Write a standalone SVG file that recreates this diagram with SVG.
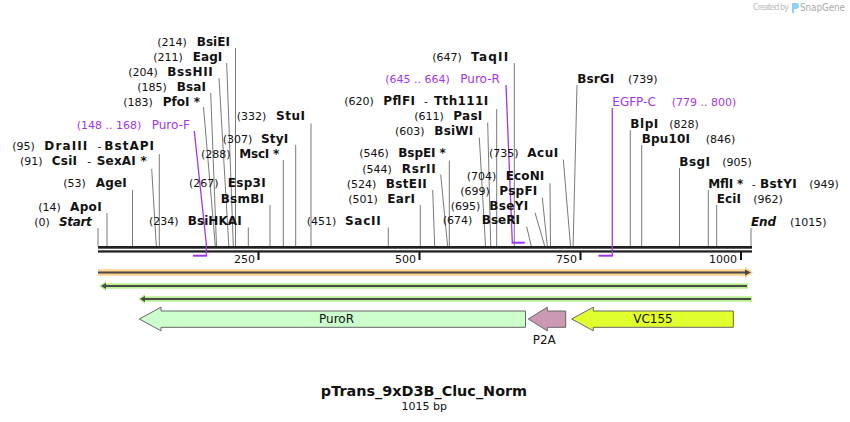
<svg xmlns="http://www.w3.org/2000/svg" width="850" height="422" viewBox="0 0 850 422">
<style>
text{font-family:"DejaVu Sans","Verdana",sans-serif;fill:#111}
.n{font-size:11px}
.e{font-size:12px;font-weight:bold}
.i{font-style:italic}
.p{font-size:12px;fill:#a336ec}
.pn{font-size:11px;fill:#a336ec}
.d{font-size:11px}
.l{stroke:#7a7a7a;stroke-width:1;fill:none}
.pl{stroke:#a336ec;stroke-width:1.3;fill:none}
.pb{stroke:#a336ec;stroke-width:2;fill:none}
.tk{stroke:#111;stroke-width:2}
.ax{font-size:11px}
.f{stroke:#666;stroke-width:1}
.lab{font-size:12px}
</style>
<rect width="850" height="422" fill="#fff"/>
<g id="watermark">
<text x="753" y="10" style="font-size:8px;fill:#bbb" textLength="36">Created by</text>
<path d="M792 3 h4 a3 3 0 0 1 0 6 h-2 v4 h-2 z" fill="#8fd0f0"/>
<text x="800" y="11" style="font-size:10px;fill:#aaa" textLength="45" lengthAdjust="spacingAndGlyphs">SnapGene</text>
</g>
<g id="backbone">
<rect x="98" y="246" width="654" height="2.7" fill="#222"/>
<rect x="98" y="250.3" width="654" height="2.3" fill="#222"/>
<line class="tk" x1="258.5" y1="252" x2="258.5" y2="260"/>
<line class="tk" x1="419.5" y1="252" x2="419.5" y2="260"/>
<line class="tk" x1="580.5" y1="252" x2="580.5" y2="260"/>
<line class="tk" x1="741" y1="252" x2="741" y2="260"/>
<text class="ax" x="255" y="263" text-anchor="end">250</text>
<text class="ax" x="416" y="263" text-anchor="end">500</text>
<text class="ax" x="577" y="263" text-anchor="end">750</text>
<text class="ax" x="737" y="263" text-anchor="end">1000</text>
</g>
<g id="connectors">
<line class="l" x1="98" y1="228" x2="98" y2="246"/>
<line class="l" x1="107" y1="213" x2="107" y2="246"/>
<line class="l" x1="132.5" y1="190" x2="132.5" y2="246"/>
<line class="l" x1="151.7" y1="169" x2="156.3" y2="246"/>
<line class="l" x1="159.3" y1="154" x2="159.3" y2="246"/>
<line class="l" x1="203.5" y1="107" x2="215.3" y2="246"/>
<line class="l" x1="210.7" y1="93" x2="216.5" y2="246"/>
<line class="l" x1="219" y1="78" x2="228.8" y2="246"/>
<line class="l" x1="226.7" y1="63" x2="233.3" y2="246"/>
<line class="l" x1="235.5" y1="48" x2="235.5" y2="246"/>
<line class="l" x1="248.3" y1="227.5" x2="248.3" y2="246"/>
<line class="l" x1="270" y1="205" x2="270" y2="246"/>
<line class="l" x1="283.3" y1="160" x2="283.3" y2="246"/>
<line class="l" x1="295.7" y1="145" x2="295.7" y2="246"/>
<line class="l" x1="311" y1="123.5" x2="311" y2="246"/>
<line class="l" x1="388.3" y1="227.5" x2="388.3" y2="246"/>
<line class="l" x1="420.3" y1="205" x2="420.3" y2="246"/>
<line class="l" x1="432.7" y1="190" x2="434.7" y2="246"/>
<line class="l" x1="440.7" y1="174.5" x2="447.6" y2="246"/>
<line class="l" x1="449.3" y1="160.5" x2="449.3" y2="246"/>
<line class="l" x1="479.3" y1="137.5" x2="485.5" y2="246"/>
<line class="l" x1="487.7" y1="122.5" x2="490.7" y2="246"/>
<line class="l" x1="496.7" y1="109" x2="496.7" y2="246"/>
<line class="l" x1="514.3" y1="63" x2="514.3" y2="246"/>
<line class="l" x1="526.7" y1="226.7" x2="531.2" y2="246"/>
<line class="l" x1="535" y1="212.7" x2="544.7" y2="246"/>
<line class="l" x1="542.3" y1="197.7" x2="547.3" y2="246"/>
<line class="l" x1="550" y1="183.3" x2="550.5" y2="246"/>
<line class="l" x1="563.3" y1="159.5" x2="570.5" y2="246"/>
<line class="l" x1="577" y1="85" x2="573.1" y2="246"/>
<line class="l" x1="630.3" y1="130" x2="630.3" y2="246"/>
<line class="l" x1="641.7" y1="145" x2="641.7" y2="246"/>
<line class="l" x1="679.5" y1="168" x2="679.5" y2="246"/>
<line class="l" x1="708.3" y1="190" x2="708.3" y2="246"/>
<line class="l" x1="716.7" y1="205" x2="716.7" y2="246"/>
<line class="l" x1="751" y1="228" x2="751" y2="246"/>
<polyline class="pl" points="194.3,131 206.3,244 206.3,256"/>
<line class="pb" x1="193" y1="255.7" x2="207" y2="255.7"/>
<polyline class="pl" points="506,85 512.3,242"/>
<line class="pb" x1="511.5" y1="242.7" x2="524.8" y2="242.7"/>
<line class="pl" x1="612.3" y1="108" x2="612.3" y2="256"/>
<line class="pb" x1="598.5" y1="255.7" x2="613" y2="255.7"/>
</g>
<g id="labels-left">
<text class="n" x="34.3" y="226">(0)</text><text class="e i" x="59" y="226" textLength="32.7">Start</text>
<text class="n" x="38.3" y="211">(14)</text><text class="e" x="70" y="211" textLength="31.7">ApoI</text>
<text class="n" x="63.3" y="187">(53)</text><text class="e" x="95.7" y="187" textLength="31">AgeI</text>
<text class="n" x="20" y="165">(91)</text><text class="e" x="51.7" y="165" textLength="25.3">CsiI</text><text class="d" x="87.3" y="165">-</text><text class="e" x="96.7" y="165" textLength="50">SexAI *</text>
<text class="n" x="12.3" y="150">(95)</text><text class="e" x="44.3" y="150" textLength="43">DraIII</text><text class="d" x="97.5" y="150">-</text><text class="e" x="104.3" y="150" textLength="49.7">BstAPI</text>
<text class="pn" x="76.7" y="129">(148 .. 168)</text><text class="p" x="151.7" y="129">Puro-F</text>
<text class="n" x="123.3" y="106">(183)</text><text class="e" x="162.7" y="106" textLength="37.3">PfoI *</text>
<text class="n" x="137.3" y="91">(185)</text><text class="e" x="176.7" y="91" textLength="29.3">BsaI</text>
<text class="n" x="128.3" y="76">(204)</text><text class="e" x="167.3" y="76" textLength="45.4">BssHII</text>
<text class="n" x="153.3" y="61">(211)</text><text class="e" x="192.7" y="61" textLength="29.6">EagI</text>
<text class="n" x="157.3" y="46">(214)</text><text class="e" x="196.7" y="46" textLength="33.3">BsiEI</text>
<text class="n" x="149" y="225">(234)</text><text class="e" x="187.7" y="225" textLength="54">BsiHKAI</text>
<text class="n" x="189" y="187">(267)</text><text class="e" x="227.7" y="187" textLength="38">Esp3I</text><text class="e" x="220.7" y="203" textLength="43.3">BsmBI</text>
<text class="n" x="201" y="157.5">(288)</text><text class="e" x="239.3" y="157.5" textLength="40">MscI *</text>
<text class="n" x="222.7" y="143">(307)</text><text class="e" x="261" y="143" textLength="27.3">StyI</text>
<text class="n" x="236.7" y="120">(332)</text><text class="e" x="276" y="120" textLength="29">StuI</text>
<text class="n" x="306.7" y="225">(451)</text><text class="e" x="345" y="225" textLength="35.7">SacII</text>
<text class="n" x="348.3" y="203">(501)</text><text class="e" x="387.3" y="203" textLength="27.7">EarI</text>
<text class="n" x="346.7" y="187.5">(524)</text><text class="e" x="385.7" y="187.5" textLength="41">BstEII</text>
<text class="n" x="362.3" y="172.5">(544)</text><text class="e" x="401.7" y="172.5" textLength="34">RsrII</text>
<text class="n" x="359.3" y="157">(546)</text><text class="e" x="398.3" y="157" textLength="47.4">BspEI *</text>
<text class="n" x="395" y="135">(603)</text><text class="e" x="434.3" y="135" textLength="39">BsiWI</text>
<text class="n" x="414.3" y="120">(611)</text><text class="e" x="453.3" y="120" textLength="29">PasI</text>
<text class="n" x="344.3" y="105">(620)</text><text class="e" x="383.3" y="105" textLength="31.7">PflFI</text><text class="d" x="424" y="105">-</text><text class="e" x="434" y="105" textLength="54.3">Tth111I</text>
<text class="pn" x="385.3" y="82.5">(645 .. 664)</text><text class="p" x="460.3" y="82.5">Puro-R</text>
<text class="n" x="432.3" y="61">(647)</text><text class="e" x="471" y="61" textLength="37.3">TaqII</text>
<text class="n" x="442.7" y="224">(674)</text><text class="e" x="481.7" y="224" textLength="38.3">BseRI</text>
<text class="n" x="450.7" y="210">(695)</text><text class="e" x="489.3" y="210" textLength="39">BseYI</text>
<text class="n" x="460.3" y="195">(699)</text><text class="e" x="499.3" y="195" textLength="38">PspFI</text>
<text class="n" x="466.7" y="180">(704)</text><text class="e" x="505.7" y="180" textLength="38.6">EcoNI</text>
<text class="n" x="489" y="157">(735)</text><text class="e" x="527.3" y="157" textLength="31">AcuI</text>
</g>
<g id="labels-right">
<text class="e" x="577.3" y="83" textLength="37">BsrGI</text><text class="n" x="628" y="83">(739)</text>
<text class="p" x="612.3" y="106">EGFP-C</text><text class="pn" x="671.7" y="106">(779 .. 800)</text>
<text class="e" x="630.3" y="128" textLength="28">BlpI</text><text class="n" x="669.3" y="128">(828)</text>
<text class="e" x="641.7" y="143" textLength="48.3">Bpu10I</text><text class="n" x="705.7" y="143">(846)</text>
<text class="e" x="679.3" y="165.5" textLength="30.7">BsgI</text><text class="n" x="722.3" y="165.5">(905)</text>
<text class="e" x="708.3" y="187.5" textLength="35">MflI *</text><text class="d" x="751.7" y="187.5">-</text><text class="e" x="760" y="187.5" textLength="36.7">BstYI</text><text class="n" x="809.3" y="187.5">(949)</text>
<text class="e" x="716.7" y="203" textLength="24.3">EciI</text><text class="n" x="753.3" y="203">(962)</text>
<text class="e i" x="751" y="226" textLength="25">End</text><text class="n" x="790" y="226">(1015)</text>
</g>
<g id="feature-orange">
<rect x="98" y="269.3" width="649" height="6.4" fill="#fcd088"/>
<path d="M745 267 L753 272.5 L745 278 Z" fill="#fcd088"/>
<line x1="98" y1="272.5" x2="747" y2="272.5" stroke="#4a4a4a" stroke-width="2"/>
<path d="M745 269.5 L751 272.5 L745 275.5 Z" fill="#4a4a4a"/>
</g>
<g id="feature-green1">
<rect x="104" y="283.3" width="644" height="5.4" fill="#b8f08e"/>
<path d="M106 281 L99 286 L106 291 Z" fill="#b8f08e"/>
<line x1="104" y1="286" x2="747" y2="286" stroke="#4a4a4a" stroke-width="2"/>
<path d="M106 283 L101 286 L106 289 Z" fill="#4a4a4a"/>
</g>
<g id="feature-green2">
<rect x="143" y="296.3" width="609" height="5.4" fill="#b8f08e"/>
<path d="M145 294 L138 299 L145 304 Z" fill="#b8f08e"/>
<line x1="143" y1="299" x2="751" y2="299" stroke="#4a4a4a" stroke-width="2"/>
<path d="M145 296 L140 299 L145 302 Z" fill="#4a4a4a"/>
</g>
<g id="PuroR">
<path class="f" d="M139.3 319 L161 307.2 L161 311 L525.5 311 L525.5 327.3 L161 327.3 L161 330.8 Z" fill="#ccffcc"/>
<text class="lab" x="336.5" y="323" text-anchor="middle">PuroR</text>
</g>
<g id="P2A">
<path class="f" d="M528.3 319 L547.3 307.2 L547.3 311 L565.7 311 L565.7 327.3 L547.3 327.3 L547.3 330.8 Z" fill="#cc99b3"/>
<text class="lab" x="544.3" y="344" text-anchor="middle">P2A</text>
</g>
<g id="VC155">
<path class="f" d="M571.7 319 L593.3 307.2 L593.3 311 L733.3 311 L733.3 327.3 L593.3 327.3 L593.3 330.8 Z" fill="#e2ff2e"/>
<text class="lab" x="653" y="323" text-anchor="middle">VC155</text>
</g>
<g id="title">
<text x="424" y="396" text-anchor="middle" style="font-size:14.4px;font-weight:bold">pTrans_9xD3B_Cluc_Norm</text>
<text x="424.3" y="410" text-anchor="middle" style="font-size:11px">1015 bp</text>
</g>
</svg>
